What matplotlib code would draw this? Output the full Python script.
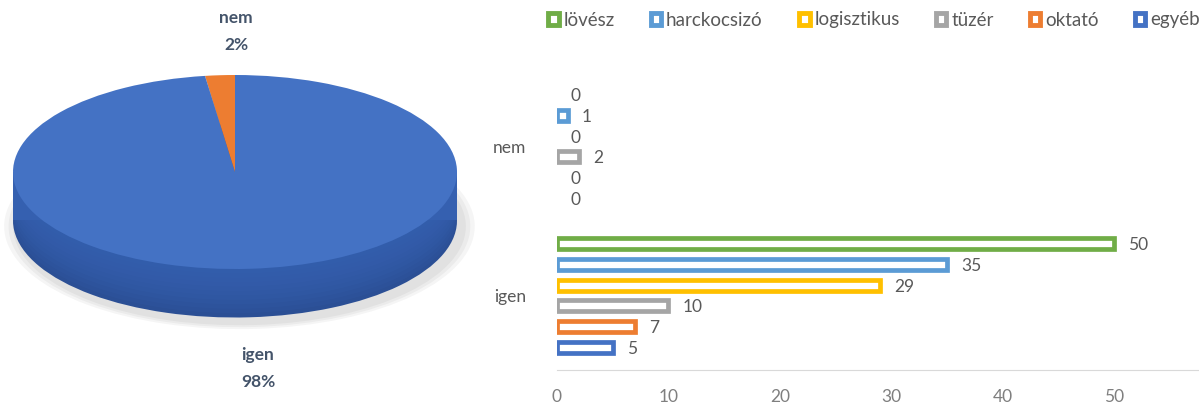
import matplotlib.pyplot as plt
from matplotlib.patches import Rectangle
import numpy as np

# Data
groups = ["igen", "nem"]
series = ["lövész", "harckocsizó", "logisztikus", "tüzér", "oktató", "egyéb"]
colors = ["#70AD47", "#5B9BD5", "#FFC000", "#A5A5A5", "#ED7D31", "#4472C4"]
values = {
    "lövész":      [50, 0],
    "harckocsizó": [35, 1],
    "logisztikus": [29, 0],
    "tüzér":       [10, 2],
    "oktató":      [7, 0],
    "egyéb":       [5, 0],
}
pie_labels = ["nem", "igen"]
pie_values = [3, 136]
pie_colors = ["#ED7D31", "#4472C4"]
pct_labels = ["2%", "98%"]
xticks = [0, 10, 20, 30, 40, 50]

plt.rcParams['font.family'] = ['Lato', 'DejaVu Sans']
W, H = 1199, 408
fig = plt.figure(figsize=(W / 100, H / 100), dpi=100)
gray = "#595959"

# ---------------- pie (pseudo 3D) ----------------
cx, cy = 235, 172      # pixel center of top face
rx, ry = 222, 97       # pixel semi axes
ax_pie = fig.add_axes([0, 0, 480 / W, 1])

depth = 0.5
# faint shadow
for i in range(3):
    ax_pie.pie(pie_values, startangle=90, colors=["#000000"] * 2, radius=1.0 + 0.02 * (3 - i),
               center=(0.02, -depth - 0.06), wedgeprops=dict(alpha=0.04, linewidth=0), frame=True)
# side: bottom face + band
ax_pie.pie(pie_values, startangle=90, colors=["#B85A1E", "#2B4F95"], center=(0, -depth),
           wedgeprops=dict(linewidth=0), frame=True)
ax_pie.add_patch(Rectangle((-1, -depth), 2, depth, color="#3560B0", lw=0, zorder=1))
n = 10
for k in range(n):
    ax_pie.pie(pie_values, startangle=90, colors=["#C96421", "#3A66B8"], radius=1.0,
               center=(0, -depth * (k + 1) / (n + 1)), wedgeprops=dict(linewidth=0, alpha=0.12),
               frame=True)
# top face
ax_pie.pie(pie_values, startangle=90, colors=pie_colors, frame=True,
           wedgeprops=dict(linewidth=0))
ax_pie.set_aspect('auto')
ax_pie.set_xlim(-cx / rx, (480 - cx) / rx)
ax_pie.set_ylim(-(H - cy) / ry, cy / ry)
ax_pie.axis('off')

lab_col = "#44546A"
for txt, xx, yy in [(pie_labels[0], 236, 18), (pct_labels[0], 236, 45),
                    (pie_labels[1], 258, 355), (pct_labels[1], 258, 382)]:
    ax_pie.text((xx - cx) / rx, (cy - yy) / ry, txt, ha='center', va='center', fontsize=12.5,
                fontweight='bold', color=lab_col)

# ---------------- bar chart ----------------
x0 = 557
px_per_unit = 11.14
bot, top = 370, 72
ax = fig.add_axes([x0 / W, (H - bot) / H, (W - x0) / W, (bot - top) / H])
ax.set_xlim(0, (W - x0) / px_per_unit)
ax.set_ylim(-0.5, 1.5)

step = 0.139
bh = 0.072
ypos = np.arange(len(groups))
for i, (s, c) in enumerate(zip(series, colors)):
    offs = (2.5 - i) * step
    vals = values[s]
    edges = [c if v > 0 else "none" for v in vals]
    ax.barh(ypos + offs, vals, height=bh, color="white", edgecolor=edges, linewidth=3.4, zorder=3)
    for y, v in zip(ypos + offs, vals):
        ax.text(v + 1.25, y - 0.01, str(v), ha='left', va='center', fontsize=12.5, color=gray)

ax.set_yticks(ypos)
ax.set_yticklabels(groups, fontsize=12.5, color=gray)
ax.set_xticks(xticks)
ax.set_xticklabels([str(t) for t in xticks], fontsize=12.5, color="#7F7F7F")
ax.tick_params(length=0, pad=14)
ax.tick_params(axis='y', pad=22)
for sp in ["top", "right", "left"]:
    ax.spines[sp].set_visible(False)
ax.spines["bottom"].set_color("#D9D9D9")

handles = [Rectangle((0, 0), 1, 1, facecolor="white", edgecolor=c, linewidth=3.5) for c in colors]
fig.legend(handles, series, loc='center', bbox_to_anchor=(874 / W, 1 - 20 / H), ncol=6,
           frameon=False, fontsize=13.5, labelcolor=gray, handlelength=0.55, handleheight=0.55,
           handletextpad=0.25, columnspacing=1.95)

fig.savefig("out.png", dpi=100)
